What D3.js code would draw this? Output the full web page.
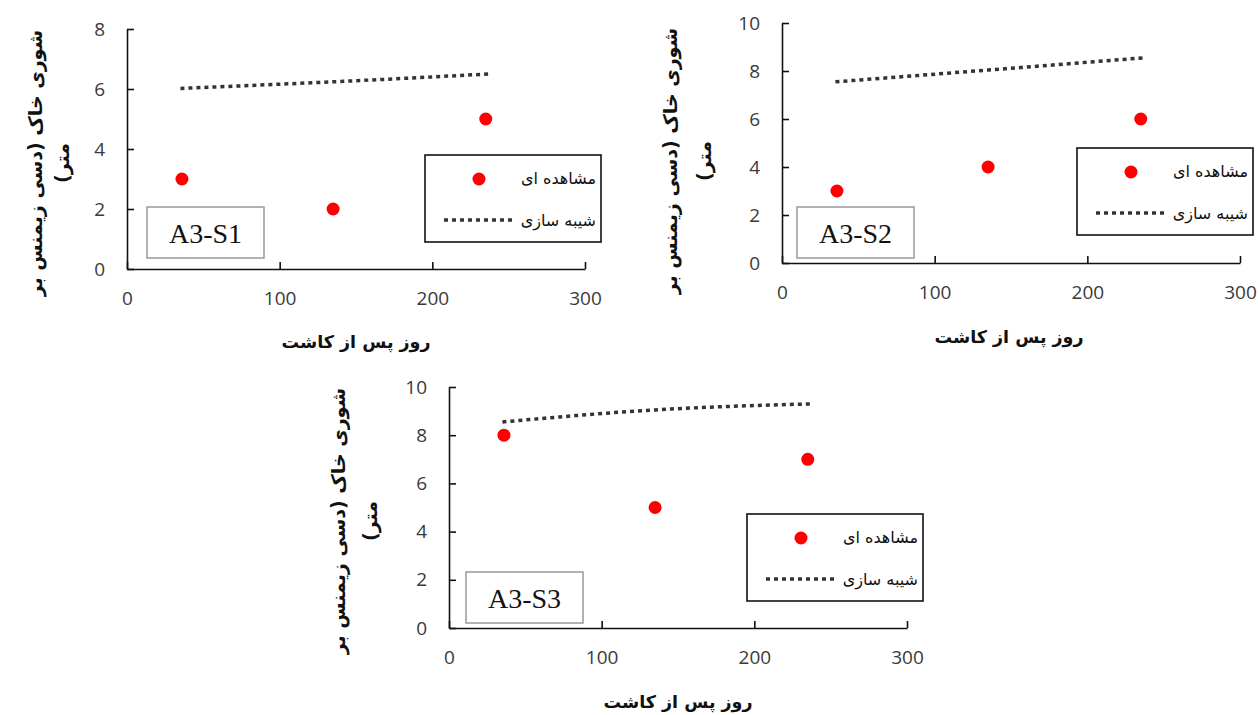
<!DOCTYPE html>
<html>
<head>
<meta charset="utf-8">
<script src="https://cdn.jsdelivr.net/npm/d3@7"></script>
<style>
  html, body { margin: 0; padding: 0; background: #fff; }
  svg { display: block; }
</style>
</head>
<body>
<svg id="chart" width="1258" height="715"></svg>
<script>
// ---------- data ----------
const panelNames = ["A3-S1", "A3-S2", "A3-S3"];
const observedDays = [36, 135, 235];
const observedS1 = [3, 2, 5];
const observedS2 = [3, 4, 6];
const observedS3 = [8, 5, 7];
const simulatedDays = [35, 135, 237];
const simulatedS1 = [6.02, 6.24, 6.5];
const simulatedS2 = [7.55, 8.04, 8.55];
const simulatedS3 = [8.55, 9.05, 9.3];
const xTicks = [0, 100, 200, 300];
const yTicksS1 = [0, 2, 4, 6, 8];
const yTicksS2 = [0, 2, 4, 6, 8, 10];
const yTicksS3 = [0, 2, 4, 6, 8, 10];
const xTitleText = "روز پس از کاشت";
const yTitleLines = ["شوری خاک (دسی زیمنس بر", "متر)"];
const legendLabels = ["مشاهده ای", "شیبه سازی"];

// ---------- layout ----------
const layout = [
  { x0: 127, x1: 585, yb: 269, yt: 29, ymax: 8,  ytx: [35, 62],   ytcy: 163, xtx: 356,  xty: 342, lg: [425, 155],  lb: [147, 207] },
  { x0: 782, x1: 1240, yb: 263, yt: 23, ymax: 10, ytx: [670, 704], ytcy: 161, xtx: 1009, xty: 337, lg: [1077, 148], lb: [797, 207] },
  { x0: 449, x1: 907, yb: 628, yt: 387, ymax: 10, ytx: [338, 370], ytcy: 521, xtx: 678,  xty: 702, lg: [747, 514],  lb: [466, 572] }
];
const observed = [observedS1, observedS2, observedS3];
const simulated = [simulatedS1, simulatedS2, simulatedS3];
const yTicks = [yTicksS1, yTicksS2, yTicksS3];

const svg = d3.select("#chart");
const persianFont = "'DejaVu Sans', sans-serif";
const dotStyle = { stroke: "#333", width: 3.5, dash: "4,4" };

layout.forEach((L, i) => {
  const g = svg.append("g");
  const x = d3.scaleLinear().domain([0, 300]).range([L.x0, L.x1]);
  const y = d3.scaleLinear().domain([0, L.ymax]).range([L.yb, L.yt]);

  const xa = g.append("g").attr("transform", `translate(0,${L.yb})`)
    .call(d3.axisBottom(x).tickValues(xTicks).tickSizeInner(-7).tickSizeOuter(0).tickPadding(23));
  const ya = g.append("g").attr("transform", `translate(${L.x0},0)`)
    .call(d3.axisLeft(y).tickValues(yTicks[i]).tickSizeInner(-7).tickSizeOuter(0).tickPadding(22));
  [xa, ya].forEach(a => {
    a.select(".domain").attr("stroke", "#111").attr("stroke-width", 1.6);
    a.selectAll(".tick line").attr("stroke", "#111").attr("stroke-width", 1.6);
    a.selectAll(".tick text").attr("fill", "#3a3a3a")
      .style("font-family", "'Open Sans', 'Liberation Sans', sans-serif").style("font-size", "19px");
  });

  // label box
  g.append("rect").attr("x", L.lb[0]).attr("y", L.lb[1]).attr("width", 117).attr("height", 51)
    .attr("fill", "#fff").attr("stroke", "#999").attr("stroke-width", 1.5);
  g.append("text").attr("x", L.lb[0] + 58.5).attr("y", L.lb[1] + 26)
    .attr("text-anchor", "middle").attr("dominant-baseline", "central")
    .style("font-family", "'Liberation Serif', 'Times New Roman', serif").style("font-size", "28px")
    .attr("fill", "#111").text(panelNames[i]);

  // simulated line
  const simPts = simulatedDays.map((d, k) => [d, simulated[i][k]]);
  g.append("path").datum(simPts)
    .attr("d", d3.line().x(d => x(d[0])).y(d => y(d[1])).curve(d3.curveMonotoneX))
    .attr("fill", "none").attr("stroke", dotStyle.stroke).attr("stroke-width", dotStyle.width)
    .attr("stroke-dasharray", dotStyle.dash);

  // observed points
  g.selectAll("circle.obs").data(observedDays.map((d, k) => [d, observed[i][k]]))
    .enter().append("circle").attr("class", "obs")
    .attr("cx", d => x(d[0])).attr("cy", d => y(d[1])).attr("r", 6.5).attr("fill", "#ff0000");

  // legend
  const lg = g.append("g").attr("transform", `translate(${L.lg[0]},${L.lg[1]})`);
  lg.append("rect").attr("width", 176).attr("height", 87).attr("fill", "#fff")
    .attr("stroke", "#111").attr("stroke-width", 1.6);
  lg.append("circle").attr("cx", 54).attr("cy", 24).attr("r", 6.5).attr("fill", "#ff0000");
  lg.append("line").attr("x1", 19).attr("x2", 87).attr("y1", 65).attr("y2", 65)
    .attr("stroke", dotStyle.stroke).attr("stroke-width", dotStyle.width).attr("stroke-dasharray", dotStyle.dash);
  legendLabels.forEach((t, k) => {
    lg.append("text").attr("x", 171).attr("y", k === 0 ? 23 : 65)
      .attr("direction", "rtl").attr("text-anchor", "start").attr("dominant-baseline", "central")
      .style("font-family", persianFont).style("font-size", "16px").attr("fill", "#111").text(t);
  });

  // x title
  g.append("text").attr("x", L.xtx).attr("y", L.xty).attr("direction", "rtl")
    .attr("text-anchor", "middle").attr("dominant-baseline", "central")
    .style("font-family", persianFont).style("font-size", "17.5px").style("font-weight", "bold")
    .attr("fill", "#111").text(xTitleText);

  // y title (rotated, two lines)
  yTitleLines.forEach((t, k) => {
    g.append("text").attr("transform", `translate(${L.ytx[k]},${L.ytcy}) rotate(-90)`)
      .attr("direction", "rtl").attr("text-anchor", "middle").attr("dominant-baseline", "central")
      .style("font-family", persianFont).style("font-size", "19px").style("font-weight", "bold")
      .attr("fill", "#111").text(t);
  });
});
</script>
</body>
</html>
